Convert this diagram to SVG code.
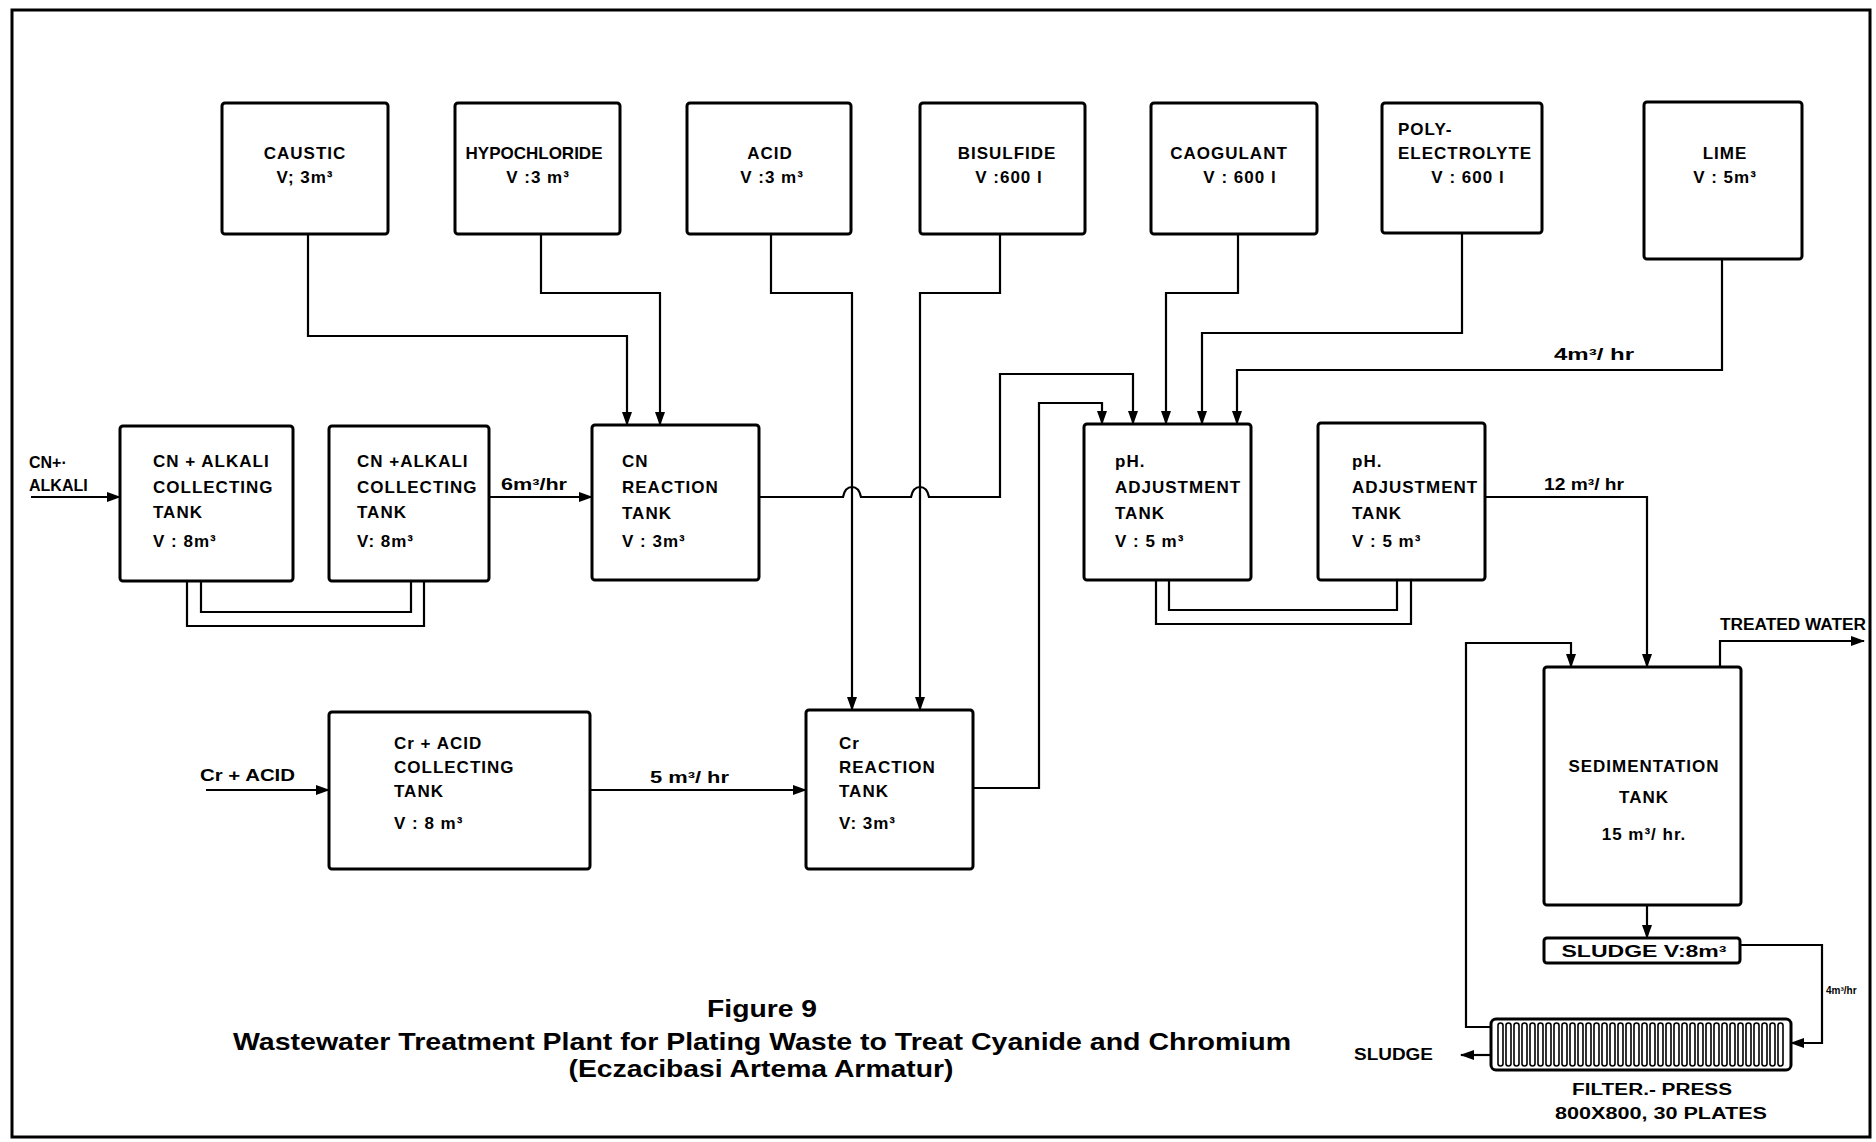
<svg xmlns="http://www.w3.org/2000/svg" width="1876" height="1142" viewBox="0 0 1876 1142">
<defs>
<marker id="ar" markerUnits="userSpaceOnUse" markerWidth="14" markerHeight="10" refX="13" refY="5" orient="auto">
<path d="M0,0 L14,5 L0,10 z" fill="#000"/>
</marker>
<style>
.box{fill:#fff;stroke:#000;stroke-width:3}
.ln{fill:none;stroke:#000;stroke-width:2.2}
.t{font-family:"Liberation Sans",Arial,sans-serif;font-weight:bold;font-size:17px;letter-spacing:1px;fill:#000}
.c{text-anchor:middle}
.s{font-size:16px;letter-spacing:0}
.xs{font-size:10px;letter-spacing:0}
.n0{letter-spacing:0}
.cap{font-family:"Liberation Sans",Arial,sans-serif;font-weight:bold;font-size:24px;fill:#000;text-anchor:middle}
.slot{fill:#fff;stroke:#000;stroke-width:1.6}
</style>
</defs>
<rect width="1876" height="1142" fill="#fff"/>
<rect x="12" y="10" width="1858" height="1127" fill="none" stroke="#000" stroke-width="3"/>

<g id="connectors">
<path class="ln" d="M31,497 H120" marker-end="url(#ar)"/>
<path class="ln" d="M489,497 H592" marker-end="url(#ar)"/>
<path class="ln" d="M308,234 V336 H627 V425" marker-end="url(#ar)"/>
<path class="ln" d="M541,234 V293 H660 V425" marker-end="url(#ar)"/>
<path class="ln" d="M771,234 V293 H852 V710" marker-end="url(#ar)"/>
<path class="ln" d="M1000,234 V293 H920 V710" marker-end="url(#ar)"/>
<path class="ln" d="M759,497 H843 Q845,487 852,487 Q859,487 861,497 H911 Q913,487 920,487 Q927,487 929,497 H1000 V374 H1133 V424" marker-end="url(#ar)"/>
<path class="ln" d="M973,788 H1039 V403 H1102 V424" marker-end="url(#ar)"/>
<path class="ln" d="M206,790 H329" marker-end="url(#ar)"/>
<path class="ln" d="M590,790 H806" marker-end="url(#ar)"/>
<path class="ln" d="M1238,234 V293 H1166 V424" marker-end="url(#ar)"/>
<path class="ln" d="M1462,233 V333 H1202 V424" marker-end="url(#ar)"/>
<path class="ln" d="M1722,259 V370 H1237 V424" marker-end="url(#ar)"/>
<path class="ln" d="M187,581 V626 H424 V581"/>
<path class="ln" d="M201,581 V612 H411 V581"/>
<path class="ln" d="M1156,580 V624 H1411 V580"/>
<path class="ln" d="M1169,580 V610 H1397 V580"/>
<path class="ln" d="M1485,497 H1647 V667" marker-end="url(#ar)"/>
<path class="ln" d="M1647,905 V938" marker-end="url(#ar)"/>
<path class="ln" d="M1720,667 V641 H1864" marker-end="url(#ar)"/>
<path class="ln" d="M1740,945 H1822 V1043 H1791" marker-end="url(#ar)"/>
<path class="ln" d="M1491,1027 H1466 V643 H1571 V667" marker-end="url(#ar)"/>
<path class="ln" d="M1491,1055 H1461" marker-end="url(#ar)"/>
</g>

<g id="caustic"><rect class="box" x="222" y="103" width="166" height="131" rx="3"/>
<text class="t c" x="305" y="159">CAUSTIC</text><text class="t c" x="305" y="183">V; 3m³</text></g>
<g id="hypochloride"><rect class="box" x="455" y="103" width="165" height="131" rx="3"/>
<text class="t c n0" x="534" y="159">HYPOCHLORIDE</text><text class="t c" x="538" y="183">V :3 m³</text></g>
<g id="acid"><rect class="box" x="687" y="103" width="164" height="131" rx="3"/>
<text class="t c" x="770" y="159">ACID</text><text class="t c" x="772" y="183">V :3 m³</text></g>
<g id="bisulfide"><rect class="box" x="920" y="103" width="165" height="131" rx="3"/>
<text class="t c" x="1007" y="159">BISULFIDE</text><text class="t c" x="1009" y="183">V :600 l</text></g>
<g id="caogulant"><rect class="box" x="1151" y="103" width="166" height="131" rx="3"/>
<text class="t c" x="1229" y="159">CAOGULANT</text><text class="t c" x="1240" y="183">V : 600 l</text></g>
<g id="polyelectrolyte"><rect class="box" x="1382" y="103" width="160" height="130" rx="3"/>
<text class="t" x="1398" y="135">POLY-</text><text class="t" x="1398" y="159">ELECTROLYTE</text><text class="t c" x="1468" y="183">V : 600 l</text></g>
<g id="lime"><rect class="box" x="1644" y="102" width="158" height="157" rx="3"/>
<text class="t c" x="1725" y="159">LIME</text><text class="t c" x="1725" y="183">V : 5m³</text></g>

<g id="cn-tank1"><rect class="box" x="120" y="426" width="173" height="155" rx="3"/>
<text class="t" x="153" y="467">CN + ALKALI</text><text class="t" x="153" y="493">COLLECTING</text><text class="t" x="153" y="518">TANK</text><text class="t" x="153" y="547">V  : 8m³</text></g>
<g id="cn-tank2"><rect class="box" x="329" y="426" width="160" height="155" rx="3"/>
<text class="t" x="357" y="467">CN +ALKALI</text><text class="t" x="357" y="493">COLLECTING</text><text class="t" x="357" y="518">TANK</text><text class="t" x="357" y="547">V: 8m³</text></g>
<g id="cn-reaction"><rect class="box" x="592" y="425" width="167" height="155" rx="3"/>
<text class="t" x="622" y="467">CN</text><text class="t" x="622" y="493">REACTION</text><text class="t" x="622" y="519">TANK</text><text class="t" x="622" y="547">V : 3m³</text></g>
<g id="ph-tank1"><rect class="box" x="1084" y="424" width="167" height="156" rx="3"/>
<text class="t" x="1115" y="467">pH.</text><text class="t" x="1115" y="493">ADJUSTMENT</text><text class="t" x="1115" y="519">TANK</text><text class="t" x="1115" y="547">V : 5 m³</text></g>
<g id="ph-tank2"><rect class="box" x="1318" y="423" width="167" height="157" rx="3"/>
<text class="t" x="1352" y="467">pH.</text><text class="t" x="1352" y="493">ADJUSTMENT</text><text class="t" x="1352" y="519">TANK</text><text class="t" x="1352" y="547">V : 5 m³</text></g>
<g id="cr-tank"><rect class="box" x="329" y="712" width="261" height="157" rx="3"/>
<text class="t" x="394" y="749">Cr + ACID</text><text class="t" x="394" y="773">COLLECTING</text><text class="t" x="394" y="797">TANK</text><text class="t" x="394" y="829">V : 8 m³</text></g>
<g id="cr-reaction"><rect class="box" x="806" y="710" width="167" height="159" rx="3"/>
<text class="t" x="839" y="749">Cr</text><text class="t" x="839" y="773">REACTION</text><text class="t" x="839" y="797">TANK</text><text class="t" x="839" y="829">V: 3m³</text></g>
<g id="sedimentation"><rect class="box" x="1544" y="667" width="197" height="238" rx="3"/>
<text class="t c" x="1644" y="772">SEDIMENTATION</text><text class="t c" x="1644" y="803">TANK</text><text class="t c" x="1644" y="840">15 m³/ hr.</text></g>
<g id="sludge-tank"><rect class="box" x="1544" y="938" width="196" height="25" rx="3"/>
<text class="t c s" x="1644" y="957" textLength="165" lengthAdjust="spacingAndGlyphs">SLUDGE  V:8m³</text></g>
<g id="filter-press"><rect class="box" x="1491" y="1019" width="300" height="51" rx="5"/>
<g>
<rect class="slot" x="1498" y="1023" width="5" height="43" rx="2.5"/><rect class="slot" x="1506" y="1023" width="5" height="43" rx="2.5"/><rect class="slot" x="1514" y="1023" width="5" height="43" rx="2.5"/><rect class="slot" x="1522" y="1023" width="5" height="43" rx="2.5"/><rect class="slot" x="1530" y="1023" width="5" height="43" rx="2.5"/><rect class="slot" x="1538" y="1023" width="5" height="43" rx="2.5"/><rect class="slot" x="1546" y="1023" width="5" height="43" rx="2.5"/><rect class="slot" x="1554" y="1023" width="5" height="43" rx="2.5"/><rect class="slot" x="1562" y="1023" width="5" height="43" rx="2.5"/><rect class="slot" x="1570" y="1023" width="5" height="43" rx="2.5"/><rect class="slot" x="1578" y="1023" width="5" height="43" rx="2.5"/><rect class="slot" x="1586" y="1023" width="5" height="43" rx="2.5"/><rect class="slot" x="1594" y="1023" width="5" height="43" rx="2.5"/><rect class="slot" x="1602" y="1023" width="5" height="43" rx="2.5"/><rect class="slot" x="1610" y="1023" width="5" height="43" rx="2.5"/><rect class="slot" x="1618" y="1023" width="5" height="43" rx="2.5"/><rect class="slot" x="1626" y="1023" width="5" height="43" rx="2.5"/><rect class="slot" x="1634" y="1023" width="5" height="43" rx="2.5"/><rect class="slot" x="1642" y="1023" width="5" height="43" rx="2.5"/><rect class="slot" x="1650" y="1023" width="5" height="43" rx="2.5"/><rect class="slot" x="1658" y="1023" width="5" height="43" rx="2.5"/><rect class="slot" x="1666" y="1023" width="5" height="43" rx="2.5"/><rect class="slot" x="1674" y="1023" width="5" height="43" rx="2.5"/><rect class="slot" x="1682" y="1023" width="5" height="43" rx="2.5"/><rect class="slot" x="1690" y="1023" width="5" height="43" rx="2.5"/><rect class="slot" x="1698" y="1023" width="5" height="43" rx="2.5"/><rect class="slot" x="1706" y="1023" width="5" height="43" rx="2.5"/><rect class="slot" x="1714" y="1023" width="5" height="43" rx="2.5"/><rect class="slot" x="1722" y="1023" width="5" height="43" rx="2.5"/><rect class="slot" x="1730" y="1023" width="5" height="43" rx="2.5"/><rect class="slot" x="1738" y="1023" width="5" height="43" rx="2.5"/><rect class="slot" x="1746" y="1023" width="5" height="43" rx="2.5"/><rect class="slot" x="1754" y="1023" width="5" height="43" rx="2.5"/><rect class="slot" x="1762" y="1023" width="5" height="43" rx="2.5"/><rect class="slot" x="1770" y="1023" width="5" height="43" rx="2.5"/><rect class="slot" x="1778" y="1023" width="5" height="43" rx="2.5"/>
</g></g>

<g id="labels">
<text class="t s" x="29" y="468">CN+·</text>
<text class="t s" x="29" y="491">ALKALI</text>
<text class="t s" x="501" y="490" textLength="66" lengthAdjust="spacingAndGlyphs">6m³/hr</text>
<text class="t s" x="200" y="781" textLength="95" lengthAdjust="spacingAndGlyphs">Cr + ACID</text>
<text class="t s" x="650" y="783" textLength="79" lengthAdjust="spacingAndGlyphs">5 m³/ hr</text>
<text class="t s" x="1544" y="490" textLength="80" lengthAdjust="spacingAndGlyphs">12 m³/ hr</text>
<text class="t s" x="1554" y="360" textLength="80" lengthAdjust="spacingAndGlyphs">4m³/ hr</text>
<text class="t s" x="1720" y="630" textLength="146" lengthAdjust="spacingAndGlyphs">TREATED WATER</text>
<text class="t s" x="1354" y="1060" textLength="79" lengthAdjust="spacingAndGlyphs">SLUDGE</text>
<text class="t c s" x="1652" y="1095" textLength="160" lengthAdjust="spacingAndGlyphs">FILTER.- PRESS</text>
<text class="t c s" x="1661" y="1119" textLength="212" lengthAdjust="spacingAndGlyphs">800X800, 30 PLATES</text>
<text class="t xs" x="1826" y="994">4m³/hr</text>
</g>

<g id="caption">
<text class="cap" x="762" y="1017" textLength="110" lengthAdjust="spacingAndGlyphs">Figure 9</text>
<text class="cap" x="762" y="1050" textLength="1058" lengthAdjust="spacingAndGlyphs">Wastewater Treatment Plant for Plating Waste to Treat Cyanide and Chromium</text>
<text class="cap" x="761" y="1077" textLength="385" lengthAdjust="spacingAndGlyphs">(Eczacibasi Artema Armatur)</text>
</g>
</svg>
